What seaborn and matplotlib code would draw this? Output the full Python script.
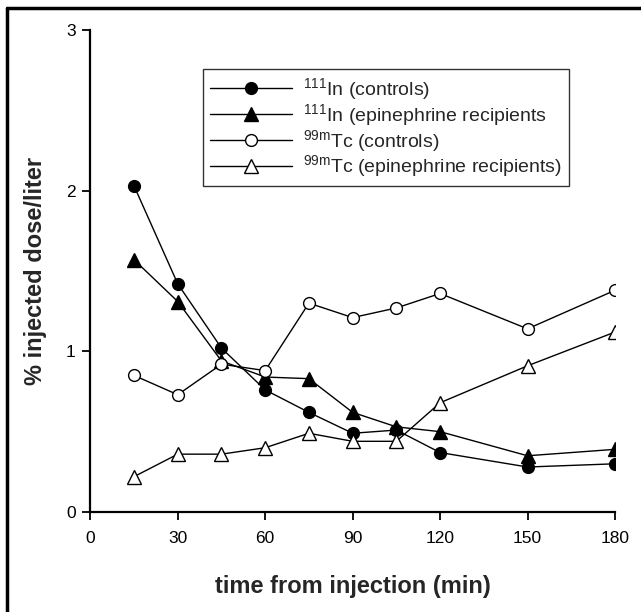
import pandas as pd
import seaborn as sns
import matplotlib.pyplot as plt
from matplotlib.lines import Line2D

sns.set_style("ticks")
plt.rcParams['font.family'] = ['Liberation Sans', 'DejaVu Sans']
plt.rcParams['mathtext.fontset'] = 'custom'
plt.rcParams['mathtext.rm'] = 'Liberation Sans'
plt.rcParams['mathtext.it'] = 'Liberation Sans:italic'
plt.rcParams['mathtext.bf'] = 'Liberation Sans:bold'

temps = [15, 30, 45, 60, 75, 90, 105, 120, 150, 180]
in_controles = [2.03, 1.42, 1.02, 0.76, 0.62, 0.49, 0.51, 0.37, 0.28, 0.30]
in_epinephrine = [1.57, 1.31, 0.94, 0.84, 0.83, 0.62, 0.53, 0.50, 0.35, 0.39]
tc_controles = [0.85, 0.73, 0.92, 0.88, 1.30, 1.21, 1.27, 1.36, 1.14, 1.38]
tc_epinephrine = [0.22, 0.36, 0.36, 0.40, 0.49, 0.44, 0.44, 0.68, 0.91, 1.12]

series = [
    (r"$^{\mathrm{111}}$In (controls)", in_controles, "o", "black"),
    (r"$^{\mathrm{111}}$In (epinephrine recipients", in_epinephrine, "^", "black"),
    (r"$^{\mathrm{99m}}$Tc (controls)", tc_controles, "o", "white"),
    (r"$^{\mathrm{99m}}$Tc (epinephrine recipients)", tc_epinephrine, "^", "white"),
]

fig = plt.figure(figsize=(6.41, 6.12), dpi=100)
ax = fig.add_axes([90.3/641, 1-512/612, 524.7/641, 482/612])

for nom, valeurs, marqueur, remplissage in series:
    df = pd.DataFrame({"temps": temps, "dose": valeurs})
    sns.lineplot(data=df, x="temps", y="dose", ax=ax, color="black", lw=1,
                 marker=marqueur, markersize=8.5 if marqueur == "o" else 10,
                 markerfacecolor=remplissage, markeredgecolor="black",
                 markeredgewidth=1, label=nom)

ax.set_xlim(0, 180)
ax.set_ylim(0, 3)
ax.set_xticks([0, 30, 60, 90, 120, 150, 180])
ax.set_yticks([0, 1, 2, 3])
ax.tick_params(direction="out", length=5.5, width=1.3, labelsize=12.5, colors="black")
ax.tick_params(axis="x", pad=8)
ax.tick_params(axis="y", pad=5)
for s in ["left", "bottom"]:
    ax.spines[s].set_linewidth(1.6)
    ax.spines[s].set_color("black")
sns.despine(ax=ax)
ax.set_xlabel("time from injection (min)", fontsize=17, fontweight="bold", labelpad=21)
ax.set_ylabel("% injected dose/liter", fontsize=17, fontweight="bold", labelpad=14)

leg = ax.legend(loc="upper left", bbox_to_anchor=(0.215, 0.919), fontsize=14,
                handlelength=4.2, frameon=True, fancybox=False, borderpad=0.35,
                labelspacing=0.0, handletextpad=0.6, borderaxespad=0)
leg.get_frame().set_edgecolor("black")
leg.get_frame().set_linewidth(1)

# cadre de la figure (haut et gauche seulement)
fig.lines.append(Line2D([6.5/641, 1], [1-8/612, 1-8/612], transform=fig.transFigure,
                        color="black", lw=2.5))
fig.lines.append(Line2D([6.5/641, 6.5/641], [0, 1-8/612], transform=fig.transFigure,
                        color="black", lw=2.5))

plt.savefig("out.png", dpi=100)
